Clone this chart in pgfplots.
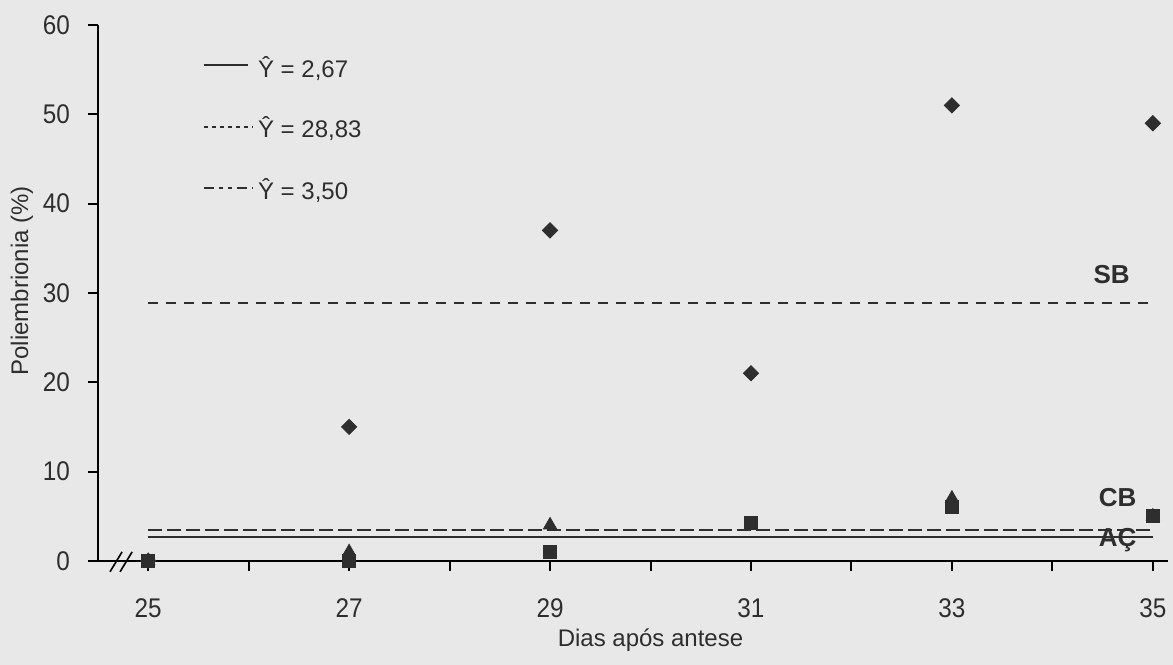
\documentclass[border=0pt]{standalone}
\usepackage{fontspec}
\setmainfont{Liberation Sans}
\newfontfamily\ticksfont{Liberation Sans}[FakeStretch=0.9]
\usepackage{pgfplots}
\pgfplotsset{compat=1.18}
\definecolor{bg}{gray}{0.91}
\definecolor{ink}{gray}{0.18}
\begin{document}
\begin{tikzpicture}
\begin{axis}[
  scale only axis, x=50.25pt, y=4.4667pt,
  xmin=24.5, xmax=35.15, ymin=0, ymax=60,
  axis on top=true, clip=false,
  axis x line=bottom, axis y line=left,
  axis line style={-, line width=1pt, black},
  xtick={25,...,35}, xticklabels={25,,27,,29,,31,,33,,35},
  ytick={0,10,...,60},
  tick align=outside, major tick length=5pt,
  tick style={black, line width=1pt},
  tick label style={font=\ticksfont\fontsize{13.5}{15}\selectfont, text=ink},
  xticklabel style={yshift=-10.5pt},
  yticklabel style={xshift=-5.5pt},
  /pgf/number format/assume math mode=true,
  xlabel={Dias após antese}, ylabel={Poliembrionia (\%)},
  label style={font=\fontsize{12}{14}\selectfont, text=ink},
  xlabel style={at={(axis cs:30,-9.63)}, anchor=base},
  ylabel style={at={(axis cs:23.744,31.34)}, anchor=center},
]
\fill[bg] (axis cs:23.5249,-11.643) rectangle (axis cs:35.1965,62.80);
% fitted lines
\addplot[ink, line width=1pt, dash pattern=on 5pt off 4pt] coordinates {(25,28.83) (35,28.83)};
\addplot[ink, line width=1pt, dash pattern=on 7pt off 2.5pt] coordinates {(25,3.50) (35,3.50)};
\addplot[ink, line width=1pt] coordinates {(25,2.67) (35,2.67)};
% data: CB (triangles), AC (squares), SB (diamonds)
\addplot[only marks, mark=triangle*, mark size=3.8pt, ink] coordinates {(25,0) (27,1) (29,4) (31,4) (33,7) (35,5)};
\addplot[only marks, mark=square*, mark size=3.2pt, ink] coordinates {(25,0) (27,0) (29,1) (31,4.25) (33,6) (35,5)};
\addplot[only marks, mark=square*, mark size=2.7pt, mark options={rotate=45}, ink] coordinates {(25,0) (27,15) (29,37) (31,21) (33,51) (35,49)};
% axis break and extension
\draw[black, line width=1pt] (axis cs:24.44,0) -- (axis cs:24.5,0);
\draw[black, line width=0.8pt] (axis cs:24.62,-1.23) -- (axis cs:24.74,1.0);
\draw[black, line width=0.8pt] (axis cs:24.72,-1.23) -- (axis cs:24.84,1.0);
% legend
\draw[ink, line width=0.9pt] (axis cs:25.555,55.5) -- (axis cs:25.99,55.5);
\draw[ink, line width=0.9pt, dash pattern=on 2pt off 2pt] (axis cs:25.555,48.6) -- (axis cs:26.04,48.6);
\draw[ink, line width=0.9pt, dash pattern=on 5pt off 2.5pt on 2pt off 2.5pt on 2pt off 2.5pt] (axis cs:25.555,41.75) -- (axis cs:26.04,41.75);
\node[anchor=base west, inner sep=0pt, font=\fontsize{12}{14}\selectfont, text=ink] at (axis cs:26.09,54.07) {Ŷ = 2,67};
\node[anchor=base west, inner sep=0pt, font=\fontsize{12}{14}\selectfont, text=ink] at (axis cs:26.09,47.35) {Ŷ = 28,83};
\node[anchor=base west, inner sep=0pt, font=\fontsize{12}{14}\selectfont, text=ink] at (axis cs:26.09,40.41) {Ŷ = 3,50};
% series labels
\node[font=\bfseries\fontsize{13}{15}\selectfont, text=ink] at (axis cs:34.59,32.0) {SB};
\node[font=\bfseries\fontsize{13}{15}\selectfont, text=ink] at (axis cs:34.65,7.05) {CB};
\node[font=\bfseries\fontsize{13}{15}\selectfont, text=ink] at (axis cs:34.65,2.35) {AÇ};
\end{axis}
\end{tikzpicture}
\end{document}
